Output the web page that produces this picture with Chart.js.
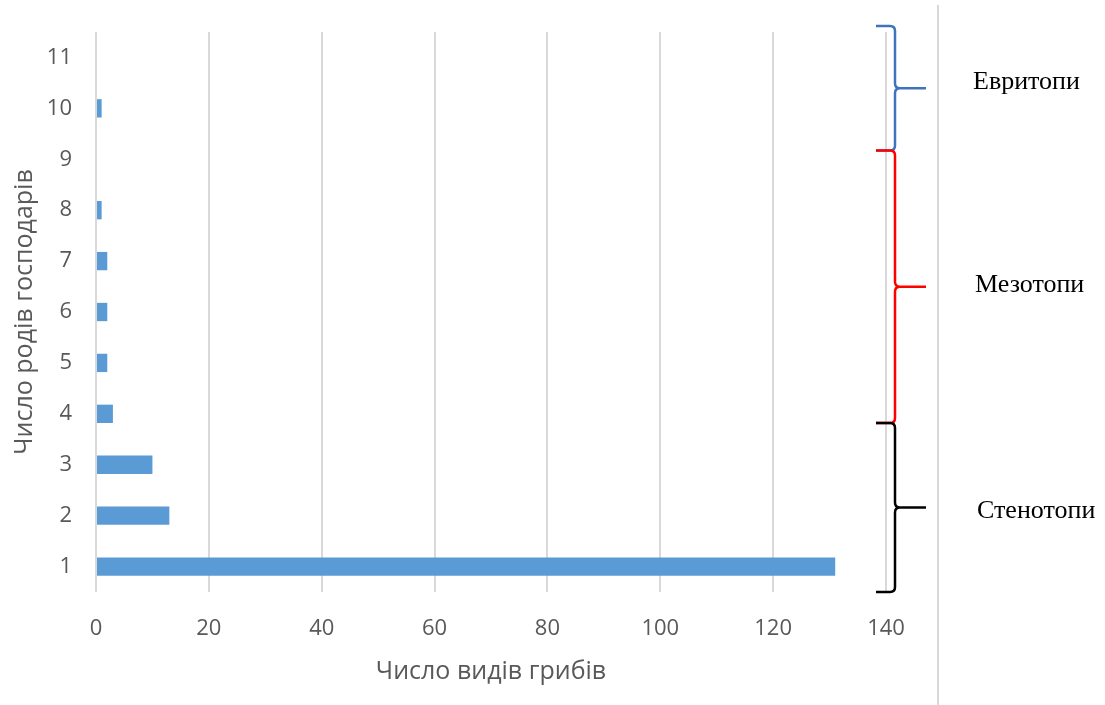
<!DOCTYPE html>
<html>
<head>
<meta charset="utf-8">
<script src="https://cdn.jsdelivr.net/npm/chart.js@4.4.0/dist/chart.umd.min.js"></script>
<style>
  html, body { margin: 0; padding: 0; background: #fff; }
  #wrap { width: 1105px; height: 705px; position: relative; }
</style>
</head>
<body>
<div id="wrap"><canvas id="hostChart" width="1105" height="705"></canvas></div>
<script>
// number of host genera (categories)
const hostGenera = ['1', '2', '3', '4', '5', '6', '7', '8', '9', '10', '11'];
// number of fungus species for each category
const speciesCount = [131, 13, 10, 3, 2, 2, 2, 1, 0, 1, 0];
// x ticks 0..140
const xTicks = [0, 20, 40, 60, 80, 100, 120, 140];

// bracket groups on the right (ranges in category units)
const groupNames = ['Евритопи', 'Мезотопи', 'Стенотопи'];
const groupTop = [11.62, 9.17, 3.82];
const groupBottom = [9.17, 3.82, 0.5];
const groupColors = ['#3d74bd', '#ff0000', '#000000'];

const greyText = '#595959';
const gridGrey = '#d9d9d9';

// brackets + labels drawn after the chart
const bracketPlugin = {
    id: 'brackets',
    afterDraw(chart) {
        const c = chart.ctx;
        const area = chart.chartArea;
        const y = chart.scales.y;
        // value -> index (categories are 1-based)
        const py = v => y.getPixelForValue(v - 1);
        const textShift = [-6, -2, 4];

        // separator line
        c.save();
        c.strokeStyle = gridGrey;
        c.lineWidth = 2;
        c.beginPath();
        c.moveTo(area.right + 52, 5);
        c.lineTo(area.right + 52, chart.height);
        c.stroke();

        const bx = area.right + 9;
        for (let i = 0; i < groupNames.length; i++) {
            const top = py(groupTop[i]);
            const bot = py(groupBottom[i]);
            const mid = (top + bot) / 2;
            c.strokeStyle = groupColors[i];
            c.lineWidth = 2.5;
            c.lineJoin = 'round';
            c.beginPath();
            c.moveTo(bx - 19, top);
            c.lineTo(bx - 5, top);
            c.quadraticCurveTo(bx, top, bx, top + 5);
            c.lineTo(bx, mid - 5);
            c.quadraticCurveTo(bx, mid, bx + 5, mid);
            c.lineTo(bx + 31, mid);
            c.moveTo(bx + 5, mid);
            c.quadraticCurveTo(bx, mid, bx, mid + 5);
            c.lineTo(bx, bot - 5);
            c.quadraticCurveTo(bx, bot, bx - 5, bot);
            c.lineTo(bx - 19, bot);
            c.stroke();

            c.fillStyle = '#000';
            c.font = '26px "Liberation Serif"';
            c.textBaseline = 'middle';
            c.textAlign = 'left';
            c.fillText(groupNames[i], area.right + 87 + i * 2, mid + textShift[i]);
        }
        c.restore();
    }
};

const ctx = document.getElementById('hostChart');
const hostChart = new Chart(ctx, {
    type: 'bar',
    data: {
        labels: hostGenera,
        datasets: [{
            data: speciesCount,
            backgroundColor: '#5b9bd5',
            borderWidth: 0,
            barPercentage: 0.36,
            categoryPercentage: 1
        }]
    },
    options: {
        indexAxis: 'y',
        responsive: false,
        animation: false,
        layout: { padding: { left: 0, right: 219, top: 32, bottom: 0 } },
        plugins: {
            legend: { display: false },
            tooltip: { enabled: false }
        },
        scales: {
            x: {
                min: 0,
                max: 140,
                afterBuildTicks: s => { s.ticks = xTicks.map(v => ({ value: v })); },
                afterFit: s => { s.height = 113; s.paddingLeft = 0; s.paddingRight = 0; },
                grid: { color: gridGrey, lineWidth: 2, drawTicks: false },
                border: { display: false },
                ticks: {
                    color: greyText,
                    padding: 24,
                    font: { family: 'Open Sans', size: 22 }
                },
                title: {
                    display: true,
                    text: 'Число видів грибів',
                    color: greyText,
                    padding: { top: 0, bottom: 18 },
                    font: { family: 'Open Sans', size: 25 }
                }
            },
            y: {
                reverse: true,
                afterFit: s => { s.width = 96; s.paddingTop = 0; s.paddingBottom = 0; },
                grid: { display: false, drawTicks: false },
                border: { display: false },
                ticks: {
                    color: greyText,
                    padding: 24,
                    font: { family: 'Open Sans', size: 22 }
                },
                title: {
                    display: true,
                    text: 'Число родів господарів',
                    color: greyText,
                    padding: { top: 10, bottom: 0 },
                    font: { family: 'Open Sans', size: 25 }
                }
            }
        }
    },
    plugins: [bracketPlugin]
});
</script>
</body>
</html>
